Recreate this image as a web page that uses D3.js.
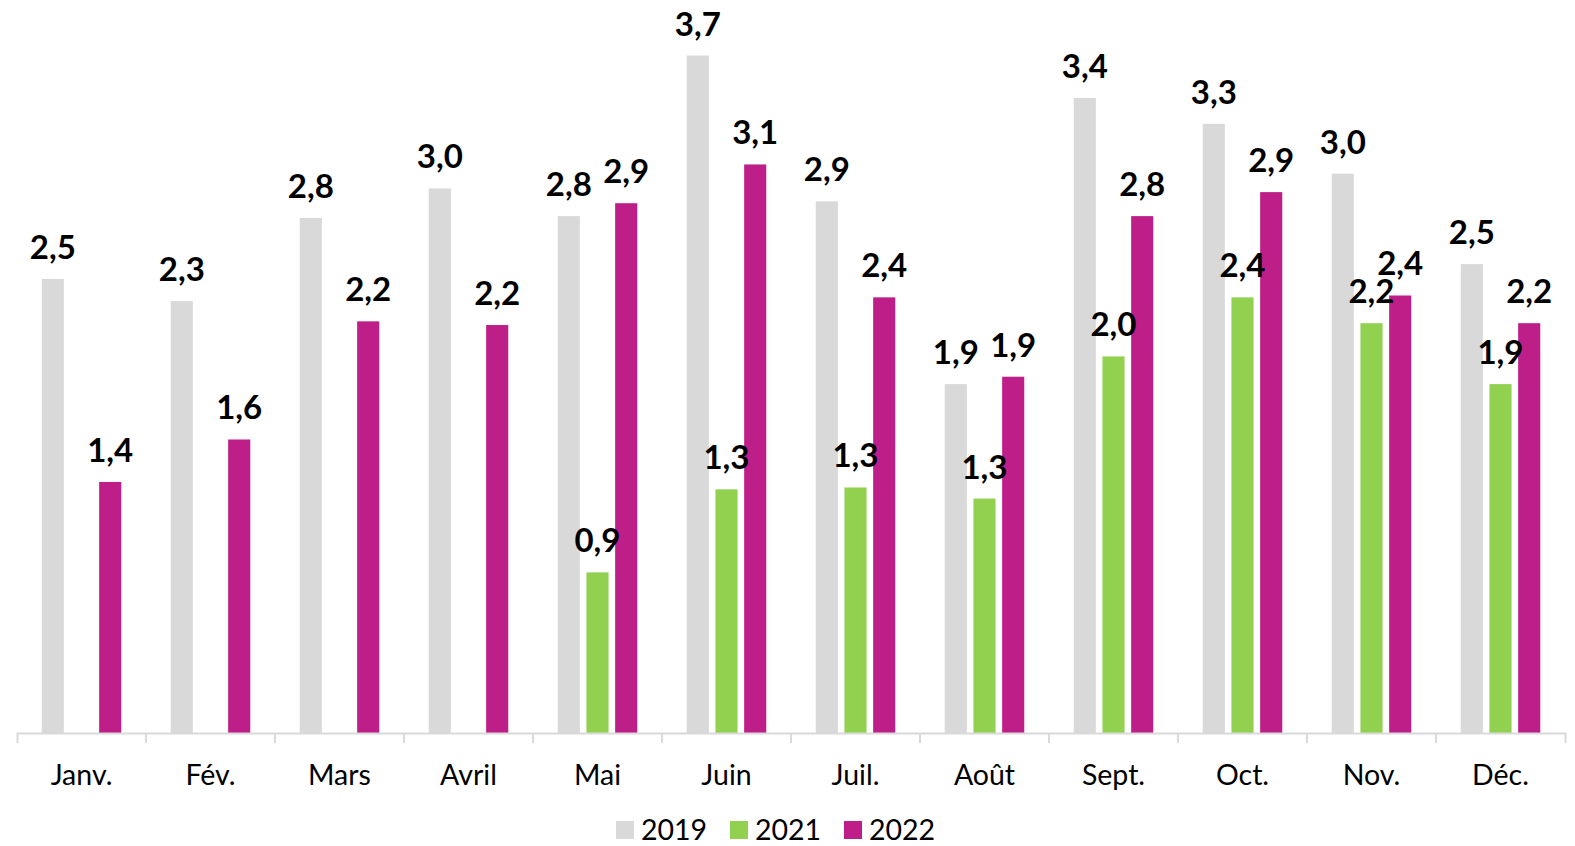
<!doctype HTML>
<html>
<head>
    <meta charset="utf-8">
    <style>
        body { margin: 0; background: #ffffff; }
        text { font-family: Lato, "Open Sans", sans-serif; fill: #000; }
        .value { font-weight: bold; font-size: 33px; }
        .month { font-size: 28.5px; }
        .legend { font-size: 28.5px; }
    </style>
    <script src="https://d3js.org/d3.v7.min.js"></script>
</head>
<body>
<div id="chart"></div>
<script>

    // data
    var months = ["Janv.", "Fév.", "Mars", "Avril", "Mai", "Juin", "Juil.", "Août", "Sept.", "Oct.", "Nov.", "Déc."];
    var series = ["2019", "2021", "2022"];
    var values2019 = [2.46, 2.34, 2.79, 2.95, 2.80, 3.67, 2.88, 1.89, 3.44, 3.30, 3.03, 2.54];
    var values2021 = [null, null, null, null, 0.87, 1.32, 1.33, 1.27, 2.04, 2.36, 2.22, 1.89];
    var values2022 = [1.36, 1.59, 2.23, 2.21, 2.87, 3.08, 2.36, 1.93, 2.80, 2.93, 2.37, 2.22];
    var colors = ["#d9d9d9", "#92d050", "#be1e87"];

    var canvasWidth = 1575;
    var canvasHeight = 846;
    var left = 17, right = 1565, baseline = 733;

    var svg = d3.select("#chart").append("svg")
        .attr("width", canvasWidth)
        .attr("height", canvasHeight);

    var seriesValues = [values2019, values2021, values2022];
    var data = [];
    months.forEach(function(m, i) {
        series.forEach(function(s, j) {
            if (seriesValues[j][i] != null) {
                data.push({month: m, series: s, value: seriesValues[j][i], color: colors[j]});
            }
        });
    });

    var x0 = d3.scaleBand().domain(months).range([left, right]).padding(0);
    var x1 = d3.scaleBand().domain(series).range([0, x0.bandwidth()])
        .paddingInner(0.23).paddingOuter(0.862);
    var y = d3.scaleLinear().domain([0, 4]).range([baseline, baseline - 4 * 184.6]);

    var fmt = d3.format(".1f");

    // bars
    svg.append("g")
        .selectAll("rect")
        .data(data)
        .join("rect")
        .attr("x", function(d) { return x0(d.month) + x1(d.series); })
        .attr("y", function(d) { return y(d.value); })
        .attr("width", x1.bandwidth())
        .attr("height", function(d) { return baseline - y(d.value); })
        .attr("fill", function(d) { return d.color; });

    // axis
    var axis = svg.append("g")
        .attr("transform", "translate(0," + baseline + ")")
        .call(d3.axisBottom(x0).tickSize(0).tickSizeOuter(10).tickPadding(32));
    axis.select(".domain").attr("stroke", "#d9d9d9").attr("stroke-width", 2);
    axis.selectAll(".tick text")
        .attr("class", "month")
        .attr("font-family", null)
        .attr("font-size", null);

    // ticks between the months
    svg.append("g")
        .selectAll("line")
        .data(months.slice(1))
        .join("line")
        .attr("x1", function(d) { return x0(d); })
        .attr("x2", function(d) { return x0(d); })
        .attr("y1", baseline)
        .attr("y2", baseline + 10)
        .attr("stroke", "#d9d9d9")
        .attr("stroke-width", 2);

    // value labels
    svg.append("g")
        .selectAll("text")
        .data(data)
        .join("text")
        .attr("class", "value")
        .attr("text-anchor", "middle")
        .attr("x", function(d) { return x0(d.month) + x1(d.series) + x1.bandwidth() / 2; })
        .attr("y", function(d) { return y(d.value) - 20; })
        .text(function(d) { return fmt(d.value).replace(".", ","); });

    // legend
    var legend = svg.append("g")
        .selectAll("g")
        .data(series)
        .join("g")
        .attr("transform", function(d, i) { return "translate(" + (616 + i * 114) + ",821)"; });

    legend.append("rect")
        .attr("width", 18)
        .attr("height", 18)
        .attr("fill", function(d, i) { return colors[i]; });

    legend.append("text")
        .attr("class", "legend")
        .attr("x", 25)
        .attr("y", 19)
        .text(function(d) { return d; });

</script>
</body>
</html>
